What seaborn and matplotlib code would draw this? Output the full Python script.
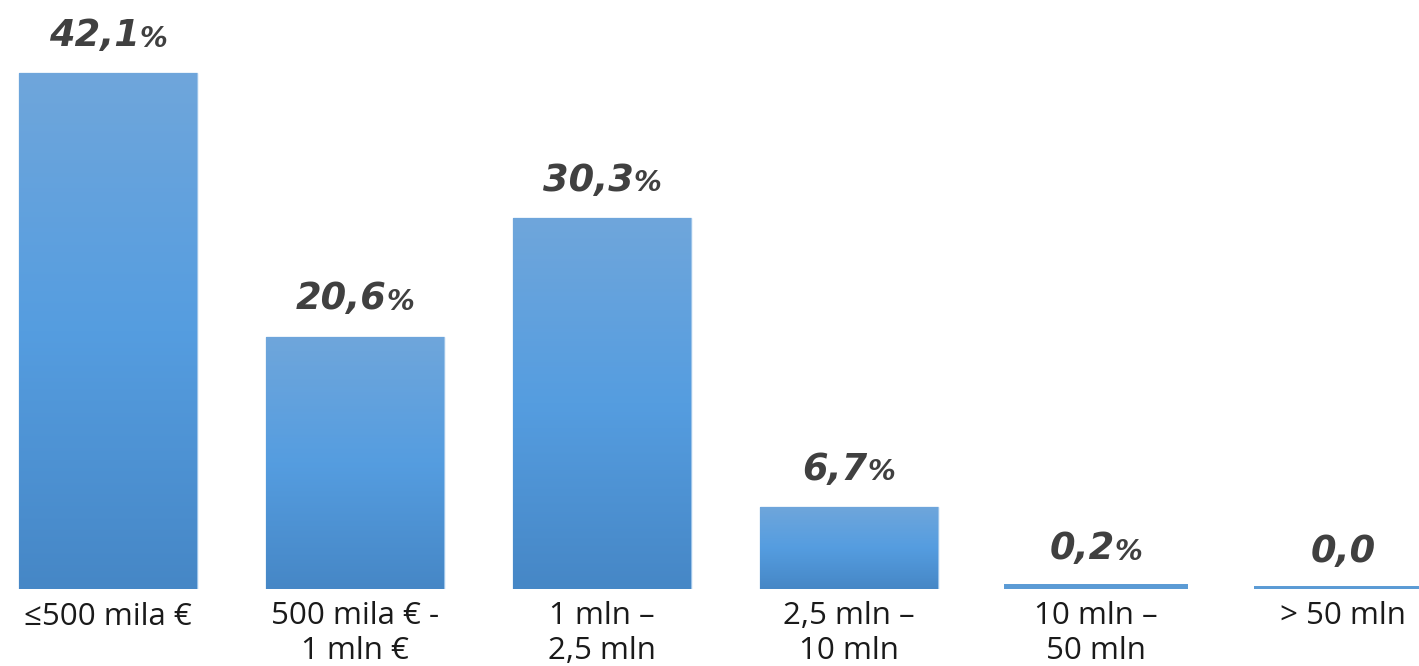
import numpy as np
import pandas as pd
import matplotlib
matplotlib.use("Agg")
import matplotlib.pyplot as plt
import seaborn as sns
from matplotlib.colors import LinearSegmentedColormap

categories = ["≤500 mila €", "500 mila € -\n1 mln €", "1 mln –\n2,5 mln", "2,5 mln –\n10 mln", "10 mln –\n50 mln", "> 50 mln"]
values = [42.1, 20.6, 30.3, 6.7, 0.2, 0.0]
value_labels = ["42,1", "20,6", "30,3", "6,7", "0,2", "0,0"]
value_suffix = ["%", "%", "%", "%", "%", ""]

sns.set_theme(style="white")
plt.rcParams['font.family'] = ['DejaVu Sans']

W, H = 1419, 666
fig = plt.figure(figsize=(W / 100, H / 100), dpi=100)
ax = fig.add_axes([0, (H - 589) / H, 1, 589 / H])

df = pd.DataFrame({"cat": categories, "val": values})
sns.barplot(data=df, x="cat", y="val", ax=ax, width=0.717, color="#5b9bd5",
            edgecolor="#9cc3e8", linewidth=1.0, saturation=1)

px_per_unit = 516 / 42.1

cmap = LinearSegmentedColormap.from_list("g", ["#4687c6", "#559de0", "#6fa6db"])
grad = np.linspace(0, 1, 256).reshape(-1, 1)
for p in list(ax.patches):
    x0, y0 = p.get_x(), p.get_y()
    w, h = p.get_width(), p.get_height()
    if h > 0.5:
        im = ax.imshow(grad, extent=[x0, x0 + w, y0, y0 + h], origin="lower",
                       cmap=cmap, aspect="auto", zorder=p.get_zorder() + 0.1)
        im.set_clip_path(p)
    else:
        p.set_edgecolor("#5b9bd5")
        p.set_linewidth(4.3)
ax.set_ylim(0, 589 / px_per_unit)
ax.set_xlim(-108 / 247, (W - 108) / 247)

for s in ax.spines.values():
    s.set_visible(False)
ax.set_xlabel("")
ax.set_ylabel("")
ax.set_yticks([])
ax.tick_params(axis="x", length=0, pad=9)
ax.set_xticks(range(len(categories)))
ax.set_xticklabels(categories, fontsize=22.5, color="#1a1a1a", family="Open Sans", linespacing=1.18)

fig.canvas.draw()
renderer = fig.canvas.get_renderer()
for i, (v, lab, suf) in enumerate(zip(values, value_labels, value_suffix)):
    t1 = ax.annotate(lab, (i, v), xytext=(0, 19.5), textcoords="offset points",
                     ha="center", va="baseline", fontsize=26.5, fontweight="bold",
                     fontstyle="italic", color="#404040")
    if suf:
        fig.canvas.draw()
        bb1 = t1.get_window_extent(renderer)
        t2 = ax.annotate(suf, xy=(1, 0), xycoords=t1, xytext=(0, 1), textcoords="offset points",
                         ha="left", va="bottom", fontsize=20, fontweight="bold",
                         fontstyle="italic", color="#404040")
        fig.canvas.draw()
        bb2 = t2.get_window_extent(renderer)
        shift = (bb2.x1 - bb1.x1) / 2
        t1.set_position((-shift * 72 / 100, 19.5))
fig.savefig("out.png", dpi=100)
